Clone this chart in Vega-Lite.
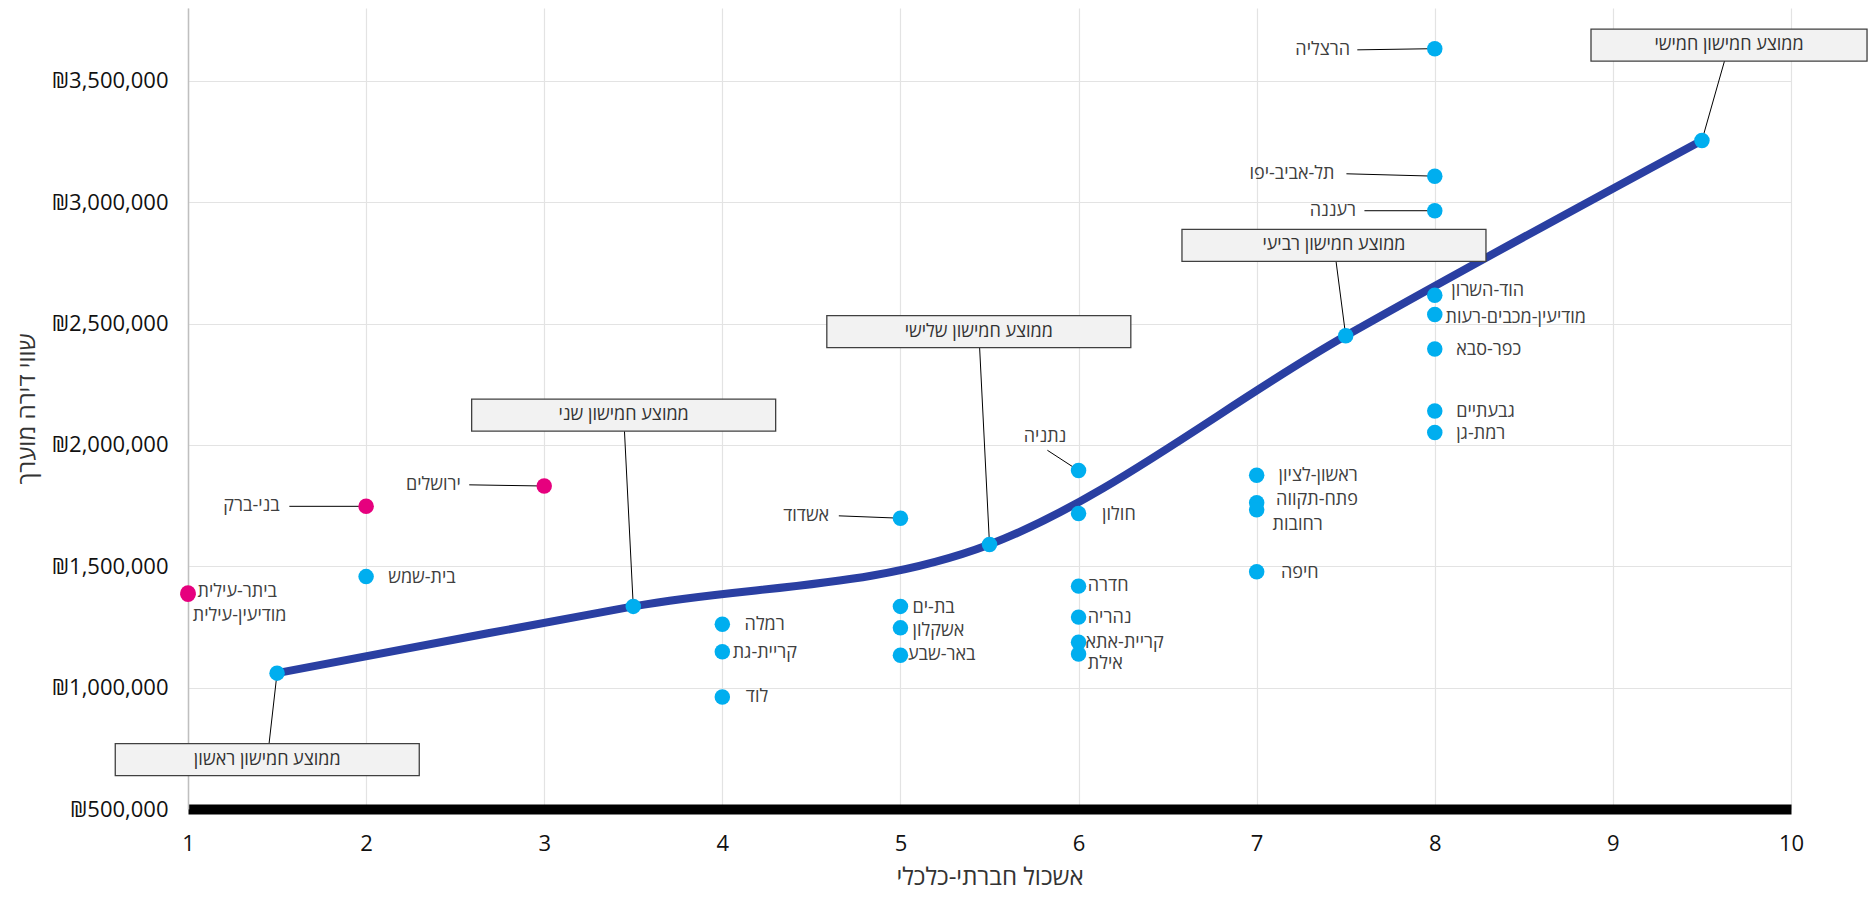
{
  "$schema": "https://vega.github.io/schema/vega-lite/v6.json",
  "width": 1603,
  "height": 801,
  "autosize": {"type": "none"},
  "padding": {"left": 188, "top": 8, "right": 77, "bottom": 89},
  "background": "white",
  "config": {
    "view": {"stroke": null},
    "font": "Open Sans",
    "text": {"font": "Open Sans"},
    "axisX": {
      "titleFontSize": 24, "titleFontWeight": "normal", "titleColor": "#333333", "titlePadding": 11,
      "labelFontSize": 22, "labelColor": "#111111", "labelPadding": 24, "labelFlush": false, "ticks": false,
      "domainColor": "#000000", "domainWidth": 10,
      "grid": true, "gridColor": "#e3e3e3", "gridWidth": 1.2
    },
    "axisY": {
      "titleFontSize": 24, "titleFontWeight": "normal", "titleColor": "#333333", "titlePadding": 12,
      "labelFontSize": 22, "labelColor": "#111111", "labelPadding": 20, "labelFlush": false, "ticks": false,
      "domainColor": "#bfbfbf", "domainWidth": 1.5,
      "grid": true, "gridColor": "#e3e3e3", "gridWidth": 1.2
    }
  },
  "datasets": {
    "cities": [
      {"city": "ביתר-עילית", "score": 1, "price": 1390000, "group": "haredi", "lx": 1.054, "ly": 1393600, "anchor": "left"},
      {"city": "מודיעין-עילית", "score": 1, "price": 1385000, "group": "haredi", "lx": 1.027, "ly": 1295400, "anchor": "left"},
      {"city": "בני-ברק", "score": 2, "price": 1747000, "group": "haredi", "lx": 1.515, "ly": 1747000, "anchor": "right", "ex": 1.569, "ey": 1747000},
      {"city": "ירושלים", "score": 3, "price": 1830600, "group": "haredi", "lx": 2.532, "ly": 1835500, "anchor": "right", "ex": 2.579, "ey": 1835500},
      {"city": "בית-שמש", "score": 2, "price": 1457400, "group": "other", "lx": 2.124, "ly": 1452500, "anchor": "left"},
      {"city": "רמלה", "score": 4, "price": 1261000, "group": "other", "lx": 4.125, "ly": 1256100, "anchor": "left"},
      {"city": "קריית-גת", "score": 4, "price": 1148100, "group": "other", "lx": 4.058, "ly": 1143200, "anchor": "left"},
      {"city": "לוד", "score": 4, "price": 961500, "group": "other", "lx": 4.132, "ly": 961500, "anchor": "left"},
      {"city": "אשדוד", "score": 5, "price": 1698000, "group": "other", "lx": 4.6, "ly": 1707800, "anchor": "right", "ex": 4.654, "ey": 1707800},
      {"city": "בת-ים", "score": 5, "price": 1334700, "group": "other", "lx": 5.068, "ly": 1329800, "anchor": "left"},
      {"city": "אשקלון", "score": 5, "price": 1246300, "group": "other", "lx": 5.068, "ly": 1231600, "anchor": "left"},
      {"city": "באר-שבע", "score": 5, "price": 1133400, "group": "other", "lx": 5.042, "ly": 1133400, "anchor": "left"},
      {"city": "נתניה", "score": 6, "price": 1894400, "group": "other", "lx": 5.812, "ly": 2031900, "anchor": "center", "ex": 5.825, "ey": 1977900},
      {"city": "חולון", "score": 6, "price": 1717700, "group": "other", "lx": 6.132, "ly": 1712800, "anchor": "left"},
      {"city": "חדרה", "score": 6, "price": 1418200, "group": "other", "lx": 6.052, "ly": 1418200, "anchor": "left"},
      {"city": "נהריה", "score": 6, "price": 1290500, "group": "other", "lx": 6.052, "ly": 1285600, "anchor": "left"},
      {"city": "קריית-אתא", "score": 6, "price": 1187400, "group": "other", "lx": 6.039, "ly": 1182500, "anchor": "left"},
      {"city": "אילת", "score": 6, "price": 1138300, "group": "other", "lx": 6.052, "ly": 1099000, "anchor": "left"},
      {"city": "ראשון-לציון", "score": 7, "price": 1874800, "group": "other", "lx": 7.123, "ly": 1869900, "anchor": "left"},
      {"city": "פתח-תקווה", "score": 7, "price": 1761900, "group": "other", "lx": 7.109, "ly": 1771700, "anchor": "left"},
      {"city": "רחובות", "score": 7, "price": 1732400, "group": "other", "lx": 7.089, "ly": 1668600, "anchor": "left"},
      {"city": "חיפה", "score": 7, "price": 1477100, "group": "other", "lx": 7.136, "ly": 1472200, "anchor": "left"},
      {"city": "הרצליה", "score": 8, "price": 3632500, "group": "other", "lx": 7.524, "ly": 3627600, "anchor": "right", "ex": 7.565, "ey": 3627600},
      {"city": "תל-אביב-יפו", "score": 8, "price": 3107200, "group": "other", "lx": 7.437, "ly": 3117000, "anchor": "right", "ex": 7.504, "ey": 3117000},
      {"city": "רעננה", "score": 8, "price": 2964800, "group": "other", "lx": 7.558, "ly": 2964800, "anchor": "right", "ex": 7.605, "ey": 2964800},
      {"city": "הוד-השרון", "score": 8, "price": 2616200, "group": "other", "lx": 8.093, "ly": 2635800, "anchor": "left"},
      {"city": "מודיעין-מכבים-רעות", "score": 8, "price": 2537600, "group": "other", "lx": 8.06, "ly": 2522900, "anchor": "left"},
      {"city": "כפר-סבא", "score": 8, "price": 2395200, "group": "other", "lx": 8.12, "ly": 2390300, "anchor": "left"},
      {"city": "גבעתיים", "score": 8, "price": 2139900, "group": "other", "lx": 8.12, "ly": 2135000, "anchor": "left"},
      {"city": "רמת-גן", "score": 8, "price": 2051500, "group": "other", "lx": 8.12, "ly": 2046600, "anchor": "left"}
    ],
    "quintiles": [
      {"q": 1, "label": "ממוצע חמישון ראשון", "score": 1.5, "price": 1059700, "bx": 1.445, "by": 703800},
      {"q": 2, "label": "ממוצע חמישון שני", "score": 3.5, "price": 1334700, "bx": 3.446, "by": 2122700},
      {"q": 3, "label": "ממוצע חמישון שלישי", "score": 5.5, "price": 1590000, "bx": 5.44, "by": 2466400},
      {"q": 4, "label": "ממוצע חמישון רביעי", "score": 7.5, "price": 2449300, "bx": 7.434, "by": 2822400},
      {"q": 5, "label": "ממוצע חמישון חמישי", "score": 9.5, "price": 3254500, "bx": 9.652, "by": 3647300}
    ]
  },
  "layer": [
    {
      "data": {"name": "quintiles"},
      "mark": {"type": "line", "interpolate": "cardinal", "strokeWidth": 8, "color": "#2a3fa2"},
      "encoding": {
        "x": {"field": "score", "type": "quantitative", "title": "אשכול חברתי-כלכלי",
          "scale": {"domain": [1, 10], "nice": false, "zero": false},
          "axis": {"values": [1, 2, 3, 4, 5, 6, 7, 8, 9, 10], "format": "d"}},
        "y": {"field": "price", "type": "quantitative", "title": "שווי דירה מוערך",
          "scale": {"domain": [500000, 3800000], "nice": false, "zero": false},
          "axis": {"values": [500000, 1000000, 1500000, 2000000, 2500000, 3000000, 3500000],
            "labelExpr": "'₪' + format(datum.value, ',')"}}
      }
    },
    {
      "data": {"name": "quintiles"},
      "mark": {"type": "rule", "color": "#000000", "strokeWidth": 1},
      "encoding": {
        "x": {"field": "score", "type": "quantitative", "title": "אשכול חברתי-כלכלי"},
        "y": {"field": "price", "type": "quantitative", "title": "שווי דירה מוערך"},
        "x2": {"field": "bx"},
        "y2": {"field": "by"}
      }
    },
    {
      "data": {"name": "quintiles"},
      "mark": {"type": "point", "filled": true, "fill": "#f2f2f2", "fillOpacity": 1, "stroke": "#404040", "strokeWidth": 1.3, "strokeOpacity": 1, "opacity": 1, "size": 92416},
      "encoding": {
        "x": {"field": "bx", "type": "quantitative", "title": "אשכול חברתי-כלכלי"},
        "y": {"field": "by", "type": "quantitative", "title": "שווי דירה מוערך"},
        "shape": {
          "condition": {"test": "datum.q == 5", "value": "M-0.908,-0.10526H0.908V0.10526H-0.908Z"},
          "value": "M-1,-0.10526H1V0.10526H-1Z"
        }
      }
    },
    {
      "data": {"name": "quintiles"},
      "mark": {"type": "text", "fontSize": 18, "color": "#333333", "align": "center", "baseline": "middle"},
      "encoding": {
        "x": {"field": "bx", "type": "quantitative", "title": "אשכול חברתי-כלכלי"},
        "y": {"field": "by", "type": "quantitative", "title": "שווי דירה מוערך"},
        "text": {"field": "label"}
      }
    },
    {
      "data": {"name": "cities"},
      "transform": [{"filter": "isValid(datum.ex)"}],
      "mark": {"type": "rule", "color": "#000000", "strokeWidth": 1},
      "encoding": {
        "x": {"field": "score", "type": "quantitative", "title": "אשכול חברתי-כלכלי"},
        "y": {"field": "price", "type": "quantitative", "title": "שווי דירה מוערך"},
        "x2": {"field": "ex"},
        "y2": {"field": "ey"}
      }
    },
    {
      "data": {"name": "cities"},
      "mark": {"type": "circle", "size": 240, "opacity": 1},
      "encoding": {
        "x": {"field": "score", "type": "quantitative", "title": "אשכול חברתי-כלכלי"},
        "y": {"field": "price", "type": "quantitative", "title": "שווי דירה מוערך"},
        "color": {
          "field": "group", "type": "nominal",
          "scale": {"domain": ["haredi", "other"], "range": ["#e6007e", "#00aeef"]},
          "legend": null
        }
      }
    },
    {
      "data": {"name": "quintiles"},
      "mark": {"type": "circle", "size": 240, "opacity": 1, "color": "#00aeef"},
      "encoding": {
        "x": {"field": "score", "type": "quantitative", "title": "אשכול חברתי-כלכלי"},
        "y": {"field": "price", "type": "quantitative", "title": "שווי דירה מוערך"}
      }
    },
    {
      "data": {"name": "cities"},
      "transform": [{"filter": "datum.anchor == 'left'"}],
      "mark": {"type": "text", "fontSize": 18, "color": "#404040", "align": "left", "baseline": "middle"},
      "encoding": {
        "x": {"field": "lx", "type": "quantitative", "title": "אשכול חברתי-כלכלי"},
        "y": {"field": "ly", "type": "quantitative", "title": "שווי דירה מוערך"},
        "text": {"field": "city"}
      }
    },
    {
      "data": {"name": "cities"},
      "transform": [{"filter": "datum.anchor == 'right'"}],
      "mark": {"type": "text", "fontSize": 18, "color": "#404040", "align": "right", "baseline": "middle"},
      "encoding": {
        "x": {"field": "lx", "type": "quantitative", "title": "אשכול חברתי-כלכלי"},
        "y": {"field": "ly", "type": "quantitative", "title": "שווי דירה מוערך"},
        "text": {"field": "city"}
      }
    },
    {
      "data": {"name": "cities"},
      "transform": [{"filter": "datum.anchor == 'center'"}],
      "mark": {"type": "text", "fontSize": 18, "color": "#404040", "align": "center", "baseline": "middle"},
      "encoding": {
        "x": {"field": "lx", "type": "quantitative", "title": "אשכול חברתי-כלכלי"},
        "y": {"field": "ly", "type": "quantitative", "title": "שווי דירה מוערך"},
        "text": {"field": "city"}
      }
    }
  ]
}
